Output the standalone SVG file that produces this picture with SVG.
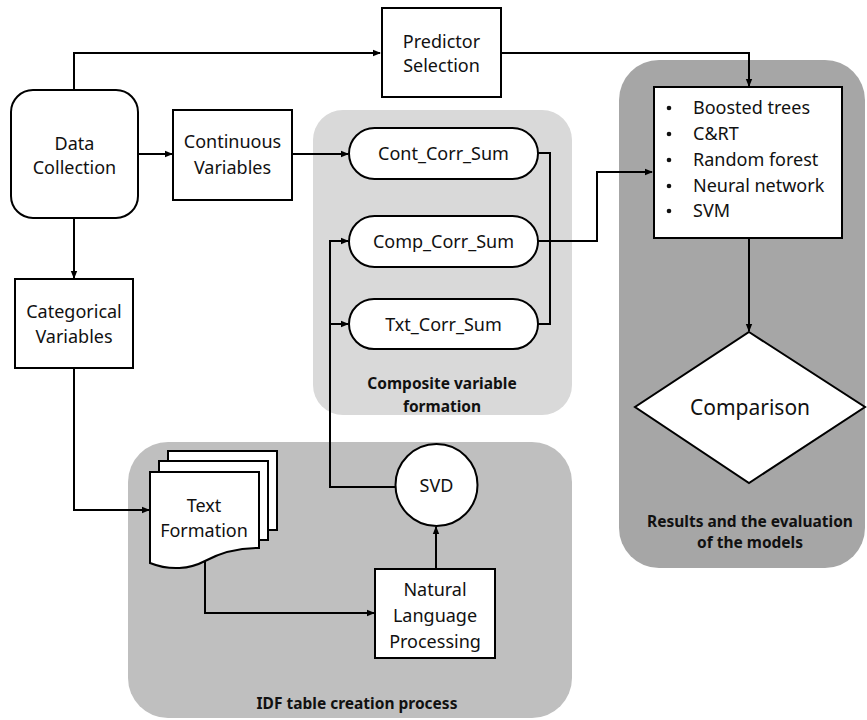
<svg xmlns="http://www.w3.org/2000/svg" width="867" height="720" viewBox="0 0 867 720">
<defs>
<marker id="arr" markerWidth="8" markerHeight="8" refX="7" refY="4" orient="auto" markerUnits="userSpaceOnUse">
<path d="M0,0.8 L8,4 L0,7.2 Z" fill="#000"/>
</marker>
<style>
.box{fill:#fff;stroke:#000;stroke-width:2}
.t{font-family:"Noto Sans","Open Sans",sans-serif;font-size:18px;fill:#111;text-anchor:middle}
.tl{font-family:"Noto Sans","Open Sans",sans-serif;font-size:18px;fill:#111}
.b{font-family:"Noto Sans","Open Sans",sans-serif;font-size:15.5px;font-weight:bold;fill:#111;text-anchor:middle}
.c{fill:none;stroke:#000;stroke-width:2}
</style>
</defs>
<rect width="867" height="720" fill="#fff"/>
<g id="panel-composite"><rect x="313" y="110" width="259" height="305" rx="30" fill="#d9d9d9"/></g>
<g id="panel-idf"><rect x="128" y="442" width="444" height="276" rx="40" fill="#bfbfbf"/></g>
<g id="panel-results"><rect x="619" y="60" width="246" height="508" rx="40" fill="#a6a6a6"/></g>

<g id="connectors">
<path class="c" d="M74,90 V53 H380" marker-end="url(#arr)"/>
<path class="c" d="M501,53 H749 V86" marker-end="url(#arr)"/>
<path class="c" d="M138,154 H172" marker-end="url(#arr)"/>
<path class="c" d="M292,154 H348" marker-end="url(#arr)"/>
<path class="c" d="M74,218 V278" marker-end="url(#arr)"/>
<path class="c" d="M74,368 V510 H149" marker-end="url(#arr)"/>
<path class="c" d="M538,153 H550 V324 H538"/>
<path class="c" d="M538,241 H597 V172 H652" marker-end="url(#arr)"/>
<path class="c" d="M396,487 H330 V241 H348" marker-end="url(#arr)"/>
<path class="c" d="M330,324 H348" marker-end="url(#arr)"/>
<path class="c" d="M205,561 V613 H374" marker-end="url(#arr)"/>
<path class="c" d="M436,569 V527" marker-end="url(#arr)"/>
<path class="c" d="M749,238 V331" marker-end="url(#arr)"/>
</g>

<g id="data-collection"><rect class="box" x="11" y="90" width="127" height="128" rx="22"/>
<text class="t" x="74.5" y="150">Data</text><text class="t" x="74.5" y="174">Collection</text></g>

<g id="predictor-selection"><rect class="box" x="382" y="8" width="119" height="89"/>
<text class="t" x="441.5" y="48">Predictor</text><text class="t" x="441.5" y="72">Selection</text></g>

<g id="continuous-variables"><rect class="box" x="173" y="110" width="119" height="90"/>
<text class="t" x="232.5" y="148">Continuous</text><text class="t" x="232.5" y="174">Variables</text></g>

<g id="categorical-variables"><rect class="box" x="15" y="279" width="118" height="89"/>
<text class="t" x="74" y="318">Categorical</text><text class="t" x="74" y="343">Variables</text></g>

<g id="cont-corr-sum"><rect class="box" x="349" y="128" width="189" height="51" rx="25.5"/>
<text class="t" x="443.5" y="160">Cont_Corr_Sum</text></g>
<g id="comp-corr-sum"><rect class="box" x="349" y="216" width="189" height="51" rx="25.5"/>
<text class="t" x="443.5" y="248">Comp_Corr_Sum</text></g>
<g id="txt-corr-sum"><rect class="box" x="349" y="299" width="189" height="50" rx="25"/>
<text class="t" x="443.5" y="331">Txt_Corr_Sum</text></g>
<g id="label-composite"><text class="b" x="442" y="389">Composite variable</text><text class="b" x="442" y="412">formation</text></g>

<g id="models"><rect class="box" x="654" y="87" width="188" height="151"/>
<g class="tl">
<circle cx="669" cy="108" r="2.3" fill="#111"/><text x="693" y="114">Boosted trees</text>
<circle cx="669" cy="134" r="2.3" fill="#111"/><text x="693" y="140">C&amp;RT</text>
<circle cx="669" cy="160" r="2.3" fill="#111"/><text x="693" y="166">Random forest</text>
<circle cx="669" cy="186" r="2.3" fill="#111"/><text x="693" y="192">Neural network</text>
<circle cx="669" cy="211" r="2.3" fill="#111"/><text x="693" y="217">SVM</text>
</g></g>

<g id="comparison"><polygon class="box" points="749,332 865,407 749,483 635,407"/>
<text class="t" x="750" y="415" style="font-size:21px">Comparison</text></g>
<g id="label-results"><text class="b" x="750" y="527">Results and the evaluation</text><text class="b" x="750" y="548">of the models</text></g>

<g id="text-formation">
<path class="box" d="M168,451 H277 V530 H268 V461 H168 Z"/>
<path class="box" d="M159,461 H268 V540 H259 V472 H159 Z"/>
<path class="box" d="M150,472 H259 V548 C236,548 218,554 205,561 C190,569 170,571 150,563 Z"/>
<text class="t" x="204" y="512">Text</text><text class="t" x="204" y="537">Formation</text></g>

<g id="svd"><circle class="box" cx="436.5" cy="485" r="41"/>
<text class="t" x="436.5" y="492">SVD</text></g>

<g id="nlp"><rect class="box" x="375" y="569" width="120" height="89"/>
<text class="t" x="435" y="596">Natural</text><text class="t" x="435" y="622">Language</text><text class="t" x="435" y="648">Processing</text></g>
<g id="label-idf"><text class="b" x="357" y="709">IDF table creation process</text></g>
</svg>
